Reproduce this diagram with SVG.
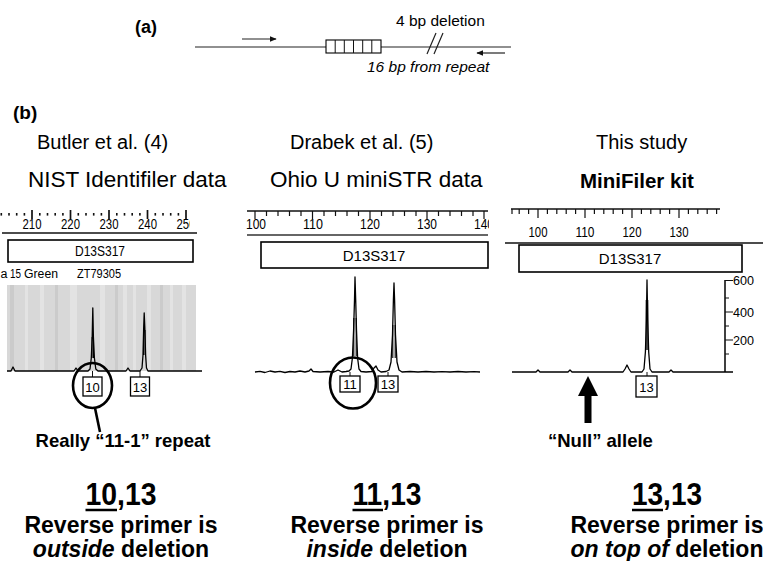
<svg xmlns="http://www.w3.org/2000/svg" width="763" height="561" viewBox="0 0 763 561">
<defs>
<style>
text{font-family:"Liberation Sans",Arial,sans-serif;fill:#000}
.lbl{font-size:19px;font-weight:bold}
.hdr{font-size:20px}
.sub{font-size:22.5px}
.ax{font-size:14px}
.mk{font-size:14.5px}
.small{font-size:12.5px}
.big{font-size:23px;font-weight:bold}
.num{font-size:31px;font-weight:bold}
.note{font-size:18.5px;font-weight:bold}
.ln{fill:none;stroke:#222;stroke-width:1.2}
.tk{fill:none;stroke:#111;stroke-width:1.2}
.trace{fill:none;stroke:#000;stroke-width:1.3;stroke-linejoin:round}
.box{fill:#fff;stroke:#000;stroke-width:1.3}
.ring{fill:none;stroke:#000;stroke-width:2.6}
.lite{fill:#e3e3e3}
.dark{fill:#cbcbcb}
</style>
<marker id="ah" viewBox="0 0 10 8" refX="9" refY="4" markerWidth="7" markerHeight="5.6" markerUnits="userSpaceOnUse" orient="auto">
<path d="M0,0 L10,4 L0,8 Z" fill="#111"/>
</marker>
<clipPath id="clipL"><rect x="0" y="200" width="190" height="40"/></clipPath>
<clipPath id="clipM"><rect x="245" y="200" width="244" height="40"/></clipPath>
</defs>
<rect width="763" height="561" fill="#fff"/>

<!-- (a) schematic -->
<g id="schematic">
<text class="lbl" x="135" y="33" style="font-size:18px">(a)</text>
<line class="ln" x1="195" y1="47" x2="511" y2="47"/>
<line class="ln" x1="242" y1="39" x2="276" y2="39" marker-end="url(#ah)"/>
<line class="ln" x1="505" y1="53" x2="477" y2="53" marker-end="url(#ah)"/>
<rect class="box" x="326" y="40" width="55" height="13" style="stroke-width:1.1"/>
<path class="tk" d="M335.2,40V53M344.3,40V53M353.5,40V53M362.7,40V53M371.8,40V53" style="stroke-width:1"/>
<path class="ln" d="M427,54L436,33M434,54L443,33"/>
<text x="396" y="26" style="font-size:15.5px">4 bp deletion</text>
<text x="367" y="72" style="font-size:15.5px;font-style:italic">16 bp from repeat</text>
</g>

<text id="label-b" class="lbl" x="13" y="119">(b)</text>

<!-- Left panel -->
<g id="panel-left">
<text class="hdr" x="37" y="149">Butler et al. (4)</text>
<text class="sub" x="28" y="187">NIST Identifiler data</text>
<g fill="#111">
<rect x="0.5" y="213" width="1.6" height="2.6"/><rect x="8.2" y="213" width="1.6" height="2.6"/><rect x="15.9" y="213" width="1.6" height="2.6"/><rect x="23.6" y="213" width="1.6" height="2.6"/>
<rect x="39" y="213" width="1.6" height="2.6"/><rect x="46.7" y="213" width="1.6" height="2.6"/><rect x="54.4" y="213" width="1.6" height="2.6"/><rect x="62.1" y="213" width="1.6" height="2.6"/>
<rect x="77.5" y="213" width="1.6" height="2.6"/><rect x="85.2" y="213" width="1.6" height="2.6"/><rect x="92.9" y="213" width="1.6" height="2.6"/><rect x="100.6" y="213" width="1.6" height="2.6"/>
<rect x="116" y="213" width="1.6" height="2.6"/><rect x="123.7" y="213" width="1.6" height="2.6"/><rect x="131.4" y="213" width="1.6" height="2.6"/><rect x="139.1" y="213" width="1.6" height="2.6"/>
<rect x="154.5" y="213" width="1.6" height="2.6"/><rect x="162.2" y="213" width="1.6" height="2.6"/><rect x="169.9" y="213" width="1.6" height="2.6"/><rect x="177.6" y="213" width="1.6" height="2.6"/>
</g>
<path class="tk" d="M32,210V219M70.5,210V219M109,210V219M147.5,210V219M186,210V219" style="stroke-width:1.7"/>
<g clip-path="url(#clipL)" class="ax" text-anchor="middle">
<text x="32" y="229" textLength="19" lengthAdjust="spacingAndGlyphs">210</text>
<text x="70.5" y="229" textLength="19" lengthAdjust="spacingAndGlyphs">220</text>
<text x="109" y="229" textLength="19" lengthAdjust="spacingAndGlyphs">230</text>
<text x="147.5" y="229" textLength="19" lengthAdjust="spacingAndGlyphs">240</text>
<text x="186" y="229" textLength="19" lengthAdjust="spacingAndGlyphs">250</text>
</g>
<line x1="2" y1="233" x2="197" y2="233" stroke="#111" stroke-width="1.5"/>
<rect class="box" x="8" y="240" width="185" height="22" style="stroke-width:1.6"/>
<text class="mk" x="100" y="256" text-anchor="middle" textLength="50" lengthAdjust="spacingAndGlyphs">D13S317</text>
<text class="small" x="0.5" y="278">a</text>
<text class="small" x="10" y="278" textLength="11" lengthAdjust="spacingAndGlyphs">15</text>
<text class="small" x="24" y="278" textLength="34" lengthAdjust="spacingAndGlyphs">Green</text>
<text class="small" x="77" y="278" textLength="44" lengthAdjust="spacingAndGlyphs">ZT79305</text>
<rect x="7" y="285" width="189" height="86" fill="#d8d8d8"/>
<rect class="dark" x="10" y="285" width="4" height="86"/>
<rect class="lite" x="25" y="285" width="3" height="86"/>
<rect class="lite" x="40" y="285" width="4" height="86"/>
<rect class="dark" x="55" y="285" width="3" height="86"/>
<rect class="lite" x="70" y="285" width="7" height="86"/>
<rect class="lite" x="100" y="285" width="5" height="86"/>
<rect class="dark" x="115" y="285" width="3" height="86"/>
<rect class="lite" x="123" y="285" width="4" height="86"/>
<rect class="lite" x="133" y="285" width="3" height="86"/>
<rect class="lite" x="147" y="285" width="4" height="86"/>
<rect class="dark" x="160" y="285" width="3" height="86"/>
<rect class="lite" x="170" y="285" width="3" height="86"/>
<rect class="lite" x="182" y="285" width="4" height="86"/>
<path class="trace" d="M7,371 L11,371 L13,367 L15,371 L74,371 L76,368 L78,371 L88,371 L90,369 L91.3,358 L92.2,337 L92.8,308 L93.4,337 L94.4,358 L95.8,369 L98,371 L126,371 L128,368 L130,371 L140,371 L142,368 L143,355 L143.7,327 L144.2,313 L144.8,327 L145.6,355 L146.5,368 L148,371 L202,371"/>
<path d="M92.1,337 V358 M93.5,337 V358 M143.5,330 V355 M145,330 V355" stroke="#000" stroke-width="1"/>
<path class="tk" d="M92.5,371V377M140,371V377" style="stroke-width:1"/>
<rect class="box" x="83" y="377" width="19" height="19"/>
<text class="ax" x="92.5" y="391.5" text-anchor="middle" style="font-size:13px">10</text>
<rect class="box" x="130.5" y="377" width="19" height="19"/>
<text class="ax" x="140" y="391.5" text-anchor="middle" style="font-size:13px">13</text>
<ellipse class="ring" cx="92.5" cy="385.5" rx="19.5" ry="22.5"/>
<line x1="95" y1="408" x2="100" y2="432" stroke="#000" stroke-width="2.6"/>
<text class="note" x="123" y="447" text-anchor="middle">Really “11-1” repeat</text>
<text class="num" x="121" y="505" text-anchor="middle" textLength="71" lengthAdjust="spacingAndGlyphs">10,13</text>
<line x1="85.5" y1="510" x2="117" y2="510" stroke="#000" stroke-width="2.5"/>
<text class="big" x="121" y="533" text-anchor="middle">Reverse primer is</text>
<text class="big" x="121" y="557" text-anchor="middle"><tspan font-style="italic">outside</tspan> deletion</text>
</g>

<!-- Middle panel -->
<g id="panel-middle">
<text class="hdr" x="290" y="149">Drabek et al. (5)</text>
<text class="sub" x="270" y="187">Ohio U miniSTR data</text>
<line x1="247" y1="211" x2="488" y2="211" stroke="#111" stroke-width="1.5"/>
<path class="tk" d="M255,211V219M312.5,211V219M370,211V219M427,211V219M484,211V219M266.5,211V216M278,211V216M289.5,211V216M301,211V216M324,211V216M335.5,211V216M347,211V216M358.5,211V216M381.5,211V216M393,211V216M404.5,211V216M416,211V216M438.5,211V216M450,211V216M461.5,211V216M473,211V216"/>
<g clip-path="url(#clipM)" class="ax" text-anchor="middle">
<text x="256" y="229" textLength="20" lengthAdjust="spacingAndGlyphs">100</text>
<text x="313" y="229" textLength="20" lengthAdjust="spacingAndGlyphs">110</text>
<text x="370" y="229" textLength="20" lengthAdjust="spacingAndGlyphs">120</text>
<text x="427" y="229" textLength="20" lengthAdjust="spacingAndGlyphs">130</text>
<text x="484" y="229" textLength="20" lengthAdjust="spacingAndGlyphs">140</text>
</g>
<line x1="247" y1="235" x2="488" y2="235" stroke="#333" stroke-width="1.6"/>
<rect class="box" x="261" y="242" width="227" height="26" style="stroke-width:1.6"/>
<text class="mk" x="374" y="261" text-anchor="middle" style="font-size:15px">D13S317</text>
<path class="trace" d="M255,372 L260,371.4 L265,372.5 L270,371 L275,372 L280,371.4 L285,372.5 L290,371.5 L295,372 L300,371 L305,372 L309,371 L311,369 L313,371.5 L320,372 L328,371.5 L334,372 L338,370 L342,372 L346,371.5 L349,371 L351,369 L352.4,358 L353.6,330 L354.5,300 L355,277 L355.7,300 L356.5,330 L357.6,358 L359,369 L361,371.5 L366,372 L372,371.5 L374,368 L376,366 L378,370 L381,372 L386,371.5 L389,370 L391,362 L392.5,335 L393.4,300 L394,283 L394.6,300 L395.5,335 L397,362 L399,370 L402,372 L410,371.5 L418,372 L426,371.5 L434,372 L442,371.6 L450,372 L458,371.5 L466,372 L474,371.6 L480,372"/>
<path d="M353.8,318 V356 M356.2,318 V356 M392.8,325 V358 M395.2,325 V358" stroke="#000" stroke-width="1.1"/>
<path class="tk" d="M350,372V376M388,372V376" style="stroke-width:1"/>
<rect class="box" x="340" y="376" width="20" height="16"/>
<text class="ax" x="350" y="389" text-anchor="middle" style="font-size:13px">11</text>
<rect class="box" x="378" y="376" width="20" height="16"/>
<text class="ax" x="388" y="389" text-anchor="middle" style="font-size:13px">13</text>
<ellipse class="ring" cx="353" cy="383" rx="23" ry="25.5"/>
<text class="num" x="387" y="505" text-anchor="middle" textLength="69" lengthAdjust="spacingAndGlyphs">11,13</text>
<line x1="352.5" y1="510" x2="383" y2="510" stroke="#000" stroke-width="2.5"/>
<text class="big" x="387" y="533" text-anchor="middle">Reverse primer is</text>
<text class="big" x="387" y="557" text-anchor="middle"><tspan font-style="italic">inside</tspan> deletion</text>
</g>

<!-- Right panel -->
<g id="panel-right">
<text class="hdr" x="596" y="149">This study</text>
<text class="sub" x="580" y="188" style="font-size:20.5px;font-weight:bold">MiniFiler kit</text>
<line x1="511" y1="209" x2="720" y2="209" stroke="#111" stroke-width="1.5"/>
<path class="tk" d="M538,209V218M585,209V218M632,209V218M679,209V218M512,209V214M519.2,209V214M528.6,209V214M547.4,209V214M556.8,209V214M566.2,209V214M575.6,209V214M594.4,209V214M603.8,209V214M613.2,209V214M622.6,209V214M641.4,209V214M650.8,209V214M660.2,209V214M669.6,209V214M688.4,209V214M697.8,209V214M707.2,209V214M716.6,209V214"/>
<g class="ax" text-anchor="middle">
<text x="538" y="237" textLength="19" lengthAdjust="spacingAndGlyphs">100</text>
<text x="585" y="237" textLength="19" lengthAdjust="spacingAndGlyphs">110</text>
<text x="632" y="237" textLength="19" lengthAdjust="spacingAndGlyphs">120</text>
<text x="679" y="237" textLength="19" lengthAdjust="spacingAndGlyphs">130</text>
</g>
<line x1="505" y1="243" x2="763" y2="243" stroke="#111" stroke-width="1.5"/>
<rect class="box" x="519" y="245" width="223" height="27" style="stroke-width:1.6"/>
<text class="mk" x="630" y="264" text-anchor="middle" style="font-size:15px">D13S317</text>
<line x1="725" y1="280" x2="725" y2="372" stroke="#000" stroke-width="1.5"/>
<path class="tk" d="M725,280.5H733M725,312H733M725,340H733M725,298H729M725,326H729M725,354H729"/>
<g class="small" style="font-size:12.5px">
<text x="733" y="285" textLength="21" lengthAdjust="spacingAndGlyphs">600</text>
<text x="733" y="316.5" textLength="21" lengthAdjust="spacingAndGlyphs">400</text>
<text x="733" y="344.5" textLength="21" lengthAdjust="spacingAndGlyphs">200</text>
</g>
<path class="trace" d="M512,372 L536,372 L538,370 L540,372 L568,372 L570,370 L572,372 L623,372 L625,369 L627,365 L629,369 L631,372 L642,372 L644,369 L645.4,352 L646.4,320 L647,280 L647.7,320 L648.7,352 L650,369 L652,372 L669,372 L671,370 L673,372 L733,372"/>
<path d="M646.2,300 V350 M647.8,300 V350" stroke="#000" stroke-width="1"/>
<path class="tk" d="M647,372V376" style="stroke-width:1"/>
<rect class="box" x="636" y="376" width="21" height="21"/>
<text class="ax" x="646.5" y="391.5" text-anchor="middle" style="font-size:13px">13</text>
<path d="M588,376 L598,396 L591.5,396 L591.5,423 L584.5,423 L584.5,396 L578,396 Z" fill="#000"/>
<text class="note" x="548" y="447">“Null” allele</text>
<text class="num" x="667" y="505" text-anchor="middle" textLength="70" lengthAdjust="spacingAndGlyphs">13,13</text>
<line x1="632" y1="510" x2="663" y2="510" stroke="#000" stroke-width="2.5"/>
<text class="big" x="667" y="533" text-anchor="middle">Reverse primer is</text>
<text class="big" x="667" y="557" text-anchor="middle"><tspan font-style="italic">on top of</tspan> deletion</text>
</g>
</svg>
